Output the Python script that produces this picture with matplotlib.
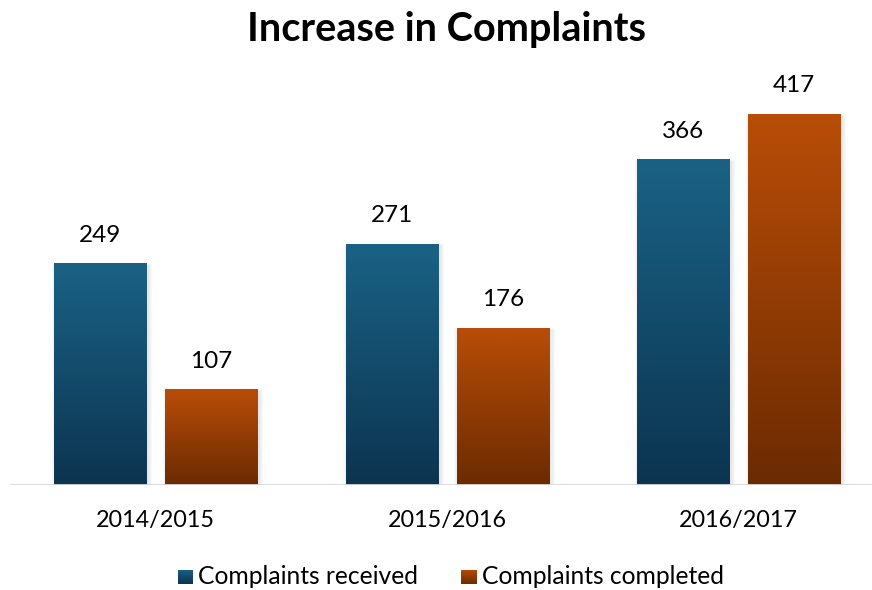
import numpy as np
import matplotlib
matplotlib.use("Agg")
import matplotlib.pyplot as plt
from matplotlib.colors import LinearSegmentedColormap
from matplotlib.patches import Rectangle

categories = ["2014/2015", "2015/2016", "2016/2017"]
series_names = ["Complaints received", "Complaints completed"]
received = [249, 271, 366]
completed = [107, 176, 417]

plt.rcParams['font.family'] = ['Lato', 'DejaVu Sans']

fig = plt.figure(figsize=(8.72, 5.90), dpi=100)
ax = fig.add_axes([10/872, 105/590, 862/872, 400/590])
ax.set_xlim(-0.5, 2.457)
ax.set_ylim(0, 450)
ax.axis('off')

top_cols = ["#1a6285", "#b94d08"]
bot_cols = ["#0c3450", "#6b2b02"]
width = 0.316
offsets = [-0.19, 0.19]
x = np.arange(len(categories))
grad = np.linspace(1, 0, 256).reshape(-1, 1)

for si, vals in enumerate([received, completed]):
    cmap = LinearSegmentedColormap.from_list("g%d" % si, [bot_cols[si], top_cols[si]])
    for xi, v in zip(x, vals):
        x0 = xi + offsets[si] - width / 2
        # soft shadow
        for k in range(4):
            d = 0.0035 * (k + 1)
            ax.add_patch(Rectangle((x0 - d + 0.006, 0), width + 2 * d, v - 2 + d * 150,
                                   facecolor="black", alpha=0.022, edgecolor="none", zorder=1))
        ax.imshow(grad, cmap=cmap, aspect='auto', extent=(x0, x0 + width, 0, v),
                  zorder=2, interpolation='bicubic')
        ax.annotate(str(v), (xi + offsets[si], v), xytext=(0, 13), textcoords='offset points',
                    ha='center', va='bottom', fontsize=17.5, color="#000000")

ax.set_xlim(-0.5, 2.457)
ax.set_ylim(0, 450)
ax.axhline(0, color="#d9d9d9", lw=2, zorder=3)

for xi, c in zip(x, categories):
    ax.text(xi, -40, c, ha='center', va='center', fontsize=16.8, color="#000000")

fig.text(446/872, 1 - 29/590, "Increase in Complaints", ha='center', va='center',
         fontsize=28.5, fontweight='bold', color="#000000")

# legend
leg_y = 1 - 577/590
sq = 15
for (sx, tx), name, tc, bc in zip([(178, 198), (461, 482)], series_names, top_cols, bot_cols):
    lax = fig.add_axes([sx/872, (590-577-sq/2)/590, sq/872, sq/590])
    cmap = LinearSegmentedColormap.from_list("l", [bc, tc])
    lax.imshow(grad, cmap=cmap, aspect='auto', extent=(0, 1, 0, 1))
    lax.axis('off')
    fig.text(tx/872, leg_y, name, ha='left', va='center', fontsize=17.7, color="#000000")

fig.savefig("out.png", dpi=100)
